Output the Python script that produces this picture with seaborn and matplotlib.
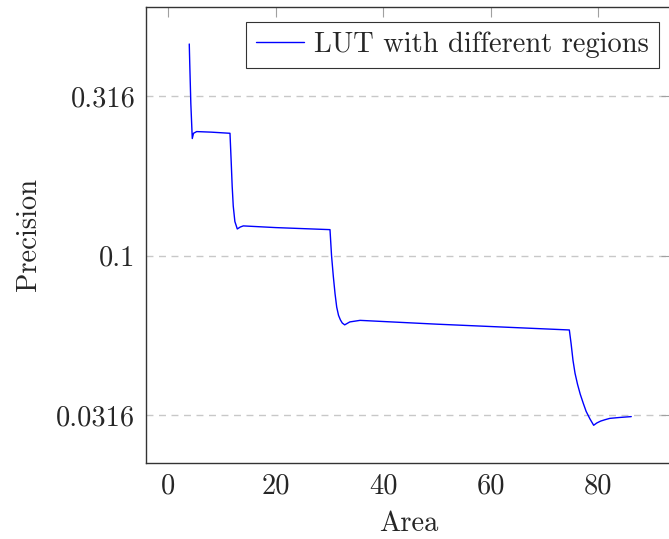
import matplotlib
matplotlib.use("Agg")
import matplotlib.pyplot as plt
import seaborn as sns
import pandas as pd
from matplotlib.ticker import FixedLocator, NullLocator

area = [3.91, 4.0, 4.2, 4.47, 4.7, 5.29, 8.0, 11.49, 11.7, 11.9, 12.1, 12.4, 12.85,
        13.4, 13.97, 20.0, 30.11, 30.4, 30.73, 31.05, 31.36, 31.7, 32.05, 32.4,
        32.85, 33.8, 35.71, 50.0, 74.67, 75.0, 75.35, 75.73, 76.2, 76.7, 77.28,
        77.8, 78.5, 79.2, 79.8, 80.5, 81.3, 82.2, 84.0, 86.2]
precision = [0.461, 0.40, 0.30, 0.233, 0.242, 0.245, 0.244, 0.242, 0.200, 0.165,
             0.143, 0.128, 0.1213, 0.123, 0.124, 0.1225, 0.1207, 0.100, 0.0861,
             0.0760, 0.0690, 0.0650, 0.0629, 0.0615, 0.0607, 0.0620, 0.0627,
             0.0610, 0.0585, 0.0530, 0.0470, 0.0428, 0.0395, 0.0368, 0.0344,
             0.0325, 0.0308, 0.0294, 0.0299, 0.0303, 0.0306, 0.0309, 0.0311, 0.0313]
series_label = "LUT with different regions"
y_ticks = [0.0316, 0.1, 0.316]
y_ticklabels = ["0.0316", "0.1", "0.316"]
x_ticks = [0, 20, 40, 60, 80]

df = pd.DataFrame({"Area": area, "Precision": precision})

sns.set_style("white")
plt.rcParams["font.family"] = ["cmr10", "DejaVu Serif"]
plt.rcParams["mathtext.fontset"] = "cm"
plt.rcParams["axes.formatter.use_mathtext"] = True

fig = plt.figure(figsize=(6.69, 5.39), dpi=100)
ax = fig.add_axes([0.2178, 0.141, 0.7852, 0.8466])

sns.lineplot(data=df, x="Area", y="Precision", ax=ax, color="blue",
             linewidth=1.0, label=series_label, sort=False)

ax.set_yscale("log")
ax.set_xlim(-4.2, 93.6)
ax.set_ylim(0.02239, 0.6036)
ax.yaxis.set_major_locator(FixedLocator(y_ticks))
ax.yaxis.set_minor_locator(NullLocator())
ax.set_yticklabels(y_ticklabels)
ax.set_xticks(x_ticks)
ax.set_xticklabels([str(t) for t in x_ticks])

ax.grid(axis="y", which="major", color="#c8c8c8", linestyle=(0, (5, 4)), linewidth=1.0)
ax.tick_params(axis="both", which="major", direction="in", length=7.2, width=0.8,
               color="#a0a0a0", labelsize=20.5, top=True, right=True, pad=7.5)
for s in ax.spines.values():
    s.set_color("#333333")
    s.set_linewidth(1.0)

ax.set_xlabel("Area", fontsize=20.5, labelpad=8)
ax.set_ylabel("Precision", fontsize=20.5, labelpad=10)

leg = ax.legend(loc="upper right", bbox_to_anchor=(0.9766, 0.967), fontsize=20.5,
                frameon=True, fancybox=False, edgecolor="black", borderaxespad=0.0,
                handlelength=1.7, borderpad=0.35, handletextpad=0.35)
leg.get_frame().set_linewidth(0.8)

fig.savefig("out.png", dpi=100)
